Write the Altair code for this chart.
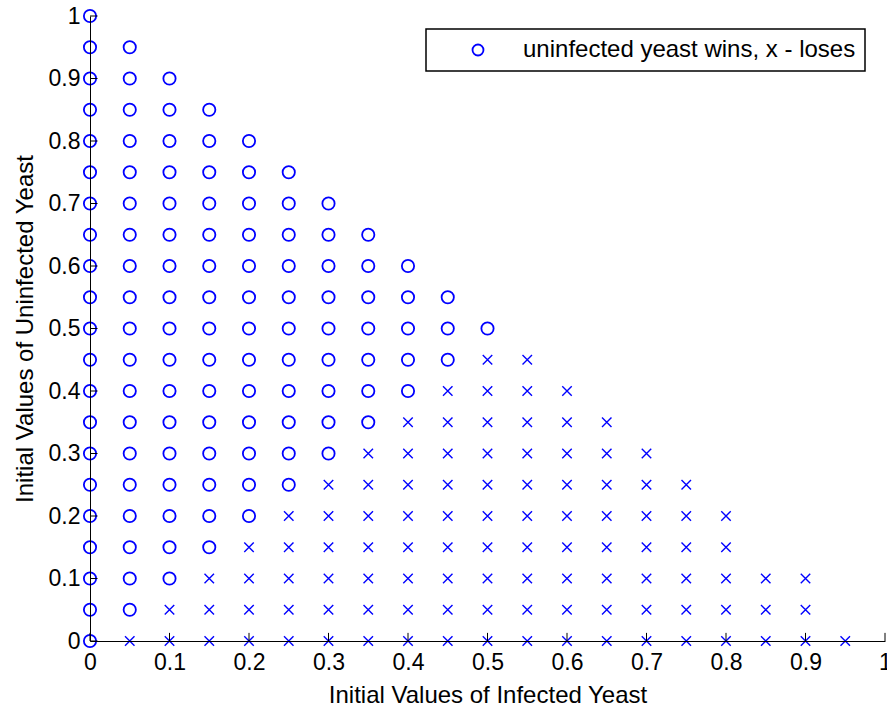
import altair as alt
import pandas as pd

# ---- data ----
infected = [0.00, 0.05, 0.10, 0.15, 0.20, 0.25, 0.30, 0.35, 0.40, 0.45,
            0.50, 0.55, 0.60, 0.65, 0.70, 0.75, 0.80, 0.85, 0.90, 0.95]
# lowest / highest uninfected value drawn as "wins" (circle) in each column
wins_low = [0.00, 0.05, 0.10, 0.15, 0.20, 0.25, 0.30, 0.35, 0.40, 0.45,
            0.50, None, None, None, None, None, None, None, None, None]
wins_high = [1.00, 0.95, 0.90, 0.85, 0.80, 0.75, 0.70, 0.65, 0.60, 0.55,
             0.50, None, None, None, None, None, None, None, None, None]
# highest uninfected value drawn as "loses" (x) in each column
loses_high = [None, 0.00, 0.05, 0.10, 0.15, 0.20, 0.25, 0.30, 0.35, 0.40,
              0.45, 0.45, 0.40, 0.35, 0.30, 0.25, 0.20, 0.10, 0.10, 0.00]
uninfected_levels = [0.00, 0.05, 0.10, 0.15, 0.20, 0.25, 0.30, 0.35, 0.40,
                     0.45, 0.50, 0.55, 0.60, 0.65, 0.70, 0.75, 0.80, 0.85,
                     0.90, 0.95, 1.00]
tick_values = [0.0, 0.1, 0.2, 0.3, 0.4, 0.5, 0.6, 0.7, 0.8, 0.9, 1.0]
legend_label = "uninfected yeast wins, x - loses"

wins_rows, lose_rows = [], []
for i, xv in enumerate(infected):
    for yv in uninfected_levels:
        if wins_low[i] is not None and wins_low[i] - 1e-9 <= yv <= wins_high[i] + 1e-9:
            wins_rows.append({"infected": xv, "uninfected": yv, "series": legend_label})
        if loses_high[i] is not None and yv <= loses_high[i] + 1e-9:
            lose_rows.append({"infected": xv, "uninfected": yv})
wins_df = pd.DataFrame(wins_rows)
lose_df = pd.DataFrame(lose_rows)
xticks_df = pd.DataFrame({"infected": tick_values})
yticks_df = pd.DataFrame({"uninfected": tick_values})

FONT = "Liberation Sans"
BLUE = "#0000ff"
W, H = 795, 625
XT = "Initial Values of Infected Yeast"
YT = "Initial Values of Uninfected Yeast"

xscale = alt.Scale(domain=[0, 1], nice=False, zero=False)
yscale = alt.Scale(domain=[0, 1], nice=False, zero=False)

x_axis = alt.Axis(values=tick_values, format=".1~f", grid=False, tickSize=0,
                  domainColor="black", domainWidth=1, labelFont=FONT,
                  labelFontSize=23, labelColor="black", labelPadding=10,
                  labelBaseline="top", title=XT,
                  titleFont=FONT, titleFontSize=24, titleFontWeight="normal",
                  titleColor="black", titleX=W / 2, titleY=61,
                  titleBaseline="alphabetic", titleAlign="center", zindex=1,
                  labelFlush=False, labelOverlap=False)
y_axis = alt.Axis(values=tick_values, format=".1~f", grid=False, tickSize=0,
                  domainColor="black", domainWidth=1, labelFont=FONT,
                  labelFontSize=23, labelColor="black", labelPadding=10,
                  labelBaseline="middle", title=YT,
                  titleFont=FONT, titleFontSize=24, titleFontWeight="normal",
                  titleColor="black", titleX=-58, titleY=H / 2, titleAngle=270,
                  titleBaseline="alphabetic", titleAlign="center", zindex=1,
                  labelFlush=False, labelOverlap=False)

wins = alt.Chart(wins_df).mark_point(
    shape="circle", filled=False, size=150, strokeWidth=1.8, opacity=1
).encode(
    x=alt.X("infected:Q", scale=xscale, axis=x_axis, title=XT),
    y=alt.Y("uninfected:Q", scale=yscale, axis=y_axis, title=YT),
    stroke=alt.Stroke("series:N", scale=alt.Scale(range=[BLUE]),
                      legend=alt.Legend(title=None, orient="none",
                                        legendX=336, legendY=13)),
)

loses = alt.Chart(lose_df).mark_point(
    shape="M-1,-1L1,1M-1,1L1,-1", filled=False, size=90, strokeWidth=1.4,
    color=BLUE, opacity=1
).encode(
    x=alt.X("infected:Q", scale=xscale, title=XT),
    y=alt.Y("uninfected:Q", scale=yscale, title=YT),
)

xticks = alt.Chart(xticks_df).mark_rule(color="black", strokeWidth=1).encode(
    x=alt.X("infected:Q", scale=xscale, title=XT),
    y=alt.datum(0),
    y2=alt.datum(0.013),
)
yticks = alt.Chart(yticks_df).mark_rule(color="black", strokeWidth=1).encode(
    y=alt.Y("uninfected:Q", scale=yscale, title=YT),
    x=alt.datum(0),
    x2=alt.datum(0.0095),
)

chart = alt.layer(wins, loses, xticks, yticks).properties(
    width=W, height=H,
    autosize=alt.AutoSizeParams(type="none"),
    padding={"left": 90, "top": 16, "right": 2, "bottom": 69},
    background="white",
).configure_view(stroke=None).configure_legend(
    strokeColor="black", strokeWidth=1.5, fillColor="white", padding=9,
    labelFont=FONT, labelFontSize=24, labelColor="black", labelLimit=0,
    symbolSize=120, symbolStrokeWidth=1.8, symbolOffset=31, labelOffset=33,
    symbolType="circle", cornerRadius=0,
)

chart.save("out.html", embed_options={"renderer": "svg", "actions": False})
